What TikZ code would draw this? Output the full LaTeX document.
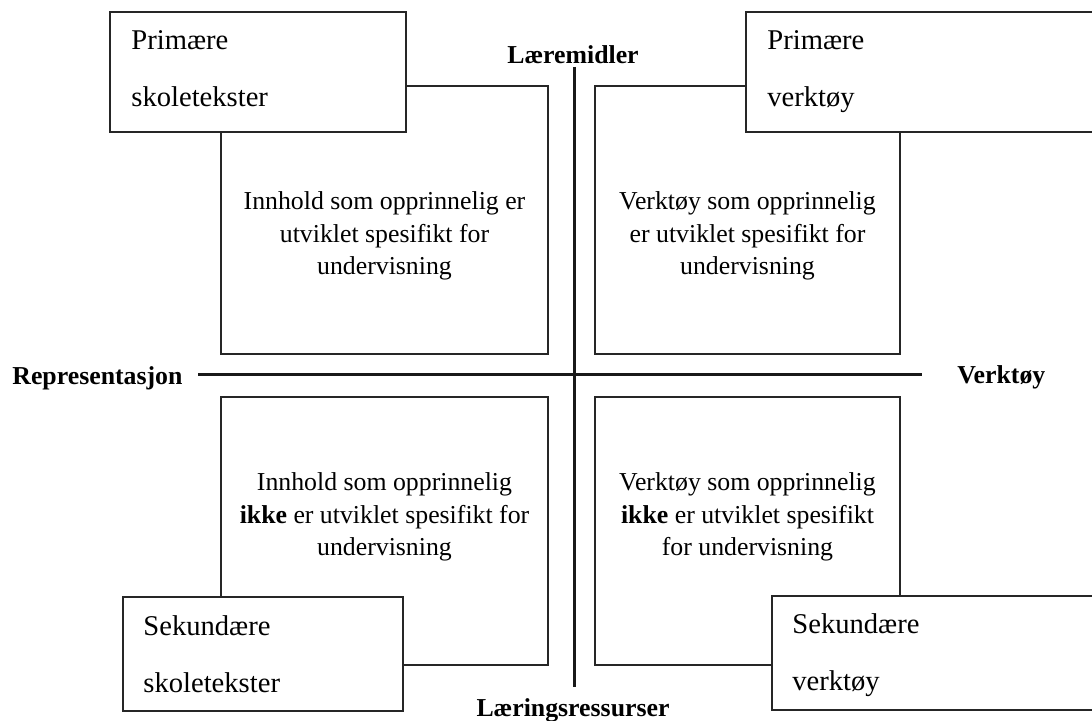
\documentclass[tikz,border=0pt]{standalone}
\usepackage{fontspec}
\setmainfont{Liberation Serif}
\begin{document}
\begin{tikzpicture}[x=0.5pt,y=-0.5pt,
  quadbox/.style={draw=black!85, line width=1pt, fill=white, inner sep=0pt},
  ovbox/.style={draw=black!85, line width=0.85pt, fill=white, inner sep=0pt},
  axisline/.style={draw=black!90, line width=1.5pt},
  quadtext/.style={align=center, inner sep=0pt, font=\fontsize{12.9}{16.2}\selectfont},
  ovtext/.style={anchor=base west, inner sep=0pt, font=\fontsize{14.3}{17}\selectfont},
  axlabel/.style={inner sep=0pt, font=\fontsize{12.9}{15}\selectfont\bfseries}]
\useasboundingbox (0,0) rectangle (1092,721);
\clip (0,0) rectangle (1092,721);
% axes
\coordinate (vtop) at (574,67);
\coordinate (vbot) at (574,687);
\coordinate (hl) at (198,375);
\coordinate (hr) at (922,375);
\draw[axisline] (vtop) -- (vbot);
\draw[axisline] (hl) -- (hr);
% axis labels
\node[axlabel, anchor=base] (lm) at (573,64) {Læremidler};
\node[axlabel, anchor=base] (lr) at (573,716) {Læringsressurser};
\node[axlabel, anchor=base west] (rep) at (12,385) {Representasjon};
\node[axlabel, anchor=base west] (vt) at (957,384) {Verktøy};
% quadrants
\node[quadbox, minimum width=163.5pt, minimum height=134pt] (q1) at (384.5,220) {};
\node[quadbox, minimum width=152.5pt, minimum height=134pt] (q2) at (747.5,220) {};
\node[quadbox, minimum width=163.5pt, minimum height=134pt] (q3) at (384.5,531) {};
\node[quadbox, minimum width=152.5pt, minimum height=134pt] (q4) at (747.5,531) {};
\node[quadtext] (t1) at (384.5,236) {Innhold som opprinnelig er\\utviklet spesifikt for\\undervisning};
\node[quadtext] (t2) at (747.5,236) {Verktøy som opprinnelig\\er utviklet spesifikt for\\undervisning};
\node[quadtext] (t3) at (384.5,517) {Innhold som opprinnelig\\\textbf{ikke} er utviklet spesifikt for\\undervisning};
\node[quadtext] (t4) at (747.5,517) {Verktøy som opprinnelig\\\textbf{ikke} er utviklet spesifikt\\for undervisning};
% overlay boxes
\node[ovbox, minimum width=148pt, minimum height=60pt] (o1) at (258,72) {};
\node[ovbox, minimum width=177pt, minimum height=60pt] (o2) at (923,72) {};
\node[ovbox, minimum width=140pt, minimum height=57pt] (o3) at (263,654) {};
\node[ovbox, minimum width=164pt, minimum height=57pt] (o4) at (936,653) {};
\node[ovtext] (o1a) at (131,50) {Primære};
\node[ovtext] (o1b) at (131,107) {skoletekster};
\node[ovtext] (o2a) at (767,50) {Primære};
\node[ovtext] (o2b) at (767,107) {verktøy};
\node[ovtext] (o3a) at (143,635) {Sekundære};
\node[ovtext] (o3b) at (143,692) {skoletekster};
\node[ovtext] (o4a) at (792,633) {Sekundære};
\node[ovtext] (o4b) at (792,690) {verktøy};
\end{tikzpicture}
\end{document}
